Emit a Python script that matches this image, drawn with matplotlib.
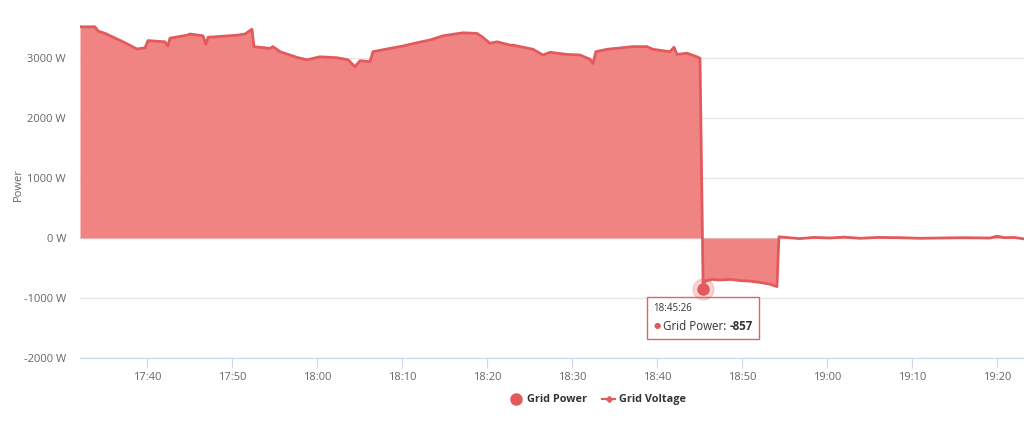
import numpy as np
import pandas as pd
import matplotlib
matplotlib.use("Agg")
import matplotlib.pyplot as plt
import matplotlib.dates as mdates
from matplotlib.lines import Line2D
from matplotlib.offsetbox import TextArea, VPacker, HPacker, AnnotationBbox

plt.rcParams['font.family'] = ['Open Sans', 'DejaVu Sans']

# grid power readings (time, watts)
times = ["17:32:07", "17:33:53", "17:34:14", "17:35:04", "17:37:11", "17:38:49",
         "17:39:46", "17:40:07", "17:42:07", "17:42:28", "17:42:42", "17:44:42",
         "17:45:04", "17:46:35", "17:46:56", "17:47:11", "17:50:35", "17:51:32",
         "17:52:21", "17:52:35", "17:54:28", "17:54:49", "17:55:39", "17:57:39",
         "17:58:49", "18:00:21", "18:02:21", "18:03:39", "18:04:28", "18:05:04",
         "18:06:14", "18:06:35", "18:08:35", "18:10:07", "18:11:46", "18:13:18",
         "18:14:49", "18:17:11", "18:18:49", "18:19:25", "18:20:21", "18:21:11",
         "18:22:42", "18:23:04", "18:25:25", "18:26:35", "18:27:25", "18:29:25",
         "18:30:56", "18:32:07", "18:32:28", "18:32:49", "18:34:07", "18:37:11",
         "18:38:49", "18:39:32", "18:41:32", "18:42:00", "18:42:21", "18:43:32",
         "18:44:42", "18:45:04", "18:45:26", "18:45:39", "18:46:30", "18:47:25",
         "18:48:40", "18:49:46", "18:51:00", "18:52:07", "18:53:18", "18:54:07",
         "18:54:21", "18:55:30", "18:56:49", "18:58:30", "19:00:21", "19:02:00",
         "19:03:53", "19:06:00", "19:08:35", "19:11:00", "19:13:18", "19:16:00",
         "19:19:11", "19:20:00", "19:20:56", "19:22:00", "19:23:11"]
power = [3520, 3520, 3450, 3410, 3270, 3150,
         3170, 3290, 3270, 3200, 3330, 3380,
         3400, 3370, 3230, 3345, 3380, 3400,
         3480, 3190, 3160, 3190, 3105, 3010,
         2970, 3020, 3005, 2970, 2855, 2955,
         2940, 3105, 3160, 3200, 3255, 3300,
         3370, 3420, 3410, 3355, 3245, 3270,
         3215, 3215, 3145, 3050, 3095, 3060,
         3050, 2980, 2910, 3105, 3145, 3190,
         3190, 3145, 3105, 3180, 3060, 3080,
         3020, 2995, -857, -720, -690, -700,
         -690, -710, -720, -740, -770, -810,
         20, 5, -10, 10, 0, 15,
         -5, 10, 5, -5, 0, 5,
         0, 30, 5, 10, -15]

t = pd.to_datetime(["2024-01-01 " + s for s in times])
tip_idx = 62

line_c = "#e35a5c"
fill_c = "#f08482"

fig = plt.figure(figsize=(10.24, 4.21), dpi=100)
ax = fig.add_axes([80 / 1024, 1 - 358 / 421, 1 - 80 / 1024, (358 - 25) / 421])

ax.fill_between(t, power, 0, color=fill_c, linewidth=0)
ax.plot(t, power, color=line_c, linewidth=2)

ax.set_xlim(t[0], t[-1])
ax.set_ylim(-2000, 3550)
ax.set_yticks([-2000, -1000, 0, 1000, 2000, 3000])
ax.set_yticklabels([f"{v} W" for v in [-2000, -1000, 0, 1000, 2000, 3000]])
ax.xaxis.set_major_locator(mdates.MinuteLocator(byminute=range(0, 60, 10)))
ax.xaxis.set_major_formatter(mdates.DateFormatter("%H:%M"))

ax.grid(axis='y', color='#e6e6e6', linewidth=1)
ax.set_axisbelow(True)
for s in ['top', 'right', 'left']:
    ax.spines[s].set_visible(False)
ax.spines['bottom'].set_color('#ccd6eb')
ax.tick_params(axis='y', length=0, labelsize=8, labelcolor='#666666', pad=10)
ax.tick_params(axis='x', length=7, color='#ccd6eb', labelsize=8, labelcolor='#666666', pad=3)
fig.text(18 / 1024, 1 - 185 / 421, "Power", rotation=90, fontsize=8, color='#666666',
         ha='center', va='center')

# hover marker and tooltip
ax.plot(t[tip_idx], power[tip_idx], 'o', markersize=15, color=line_c, alpha=0.25, zorder=5)
ax.plot(t[tip_idx], power[tip_idx], 'o', markersize=8, color=line_c, zorder=6)
box = VPacker(children=[
    TextArea("18:45:26", textprops=dict(fontsize=7, color='#333333')),
    HPacker(children=[
        TextArea("●", textprops=dict(fontsize=6, color=line_c)),
        TextArea("Grid Power:", textprops=dict(fontsize=8.3, color='#333333')),
        TextArea(str(power[tip_idx]), textprops=dict(fontsize=8.3, color='#333333', fontweight='bold')),
    ], sep=2, align='center'),
], sep=4, align='left')
ab = AnnotationBbox(box, (t[tip_idx], power[tip_idx]), xybox=(0, -10), boxcoords="offset points",
                    box_alignment=(0.5, 1), pad=0.45,
                    bboxprops=dict(edgecolor=line_c, facecolor='white', linewidth=1, alpha=0.95))
ax.add_artist(ab)

handles = [Line2D([], [], marker='o', linestyle='none', color=line_c, markersize=8),
           Line2D([], [], marker='D', color=line_c, markersize=3, linewidth=1.5)]
leg = fig.legend(handles, ["Grid Power", "Grid Voltage"], loc='center', ncol=2, frameon=False,
                 bbox_to_anchor=(0.584, 0.05), handlelength=1.2, handletextpad=0.4,
                 columnspacing=1.4, prop=dict(size=7.8, weight='bold'))
for txt in leg.get_texts():
    txt.set_color('#333333')

fig.savefig("out.png", dpi=100)
